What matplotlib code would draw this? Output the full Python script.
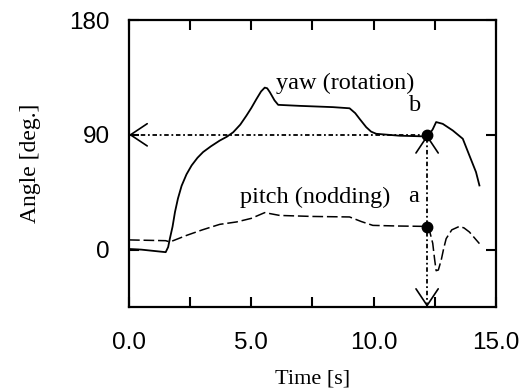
import matplotlib.pyplot as plt

# yaw (rotation) curve
yaw_t = [0.0, 0.5, 1.0, 1.5, 1.6, 1.67, 1.78, 1.88, 2.0, 2.15, 2.35, 2.56, 2.8, 3.03,
         3.35, 3.71, 4.0, 4.26, 4.55, 4.8, 5.0, 5.21, 5.4, 5.55, 5.65, 5.76, 5.95, 6.1,
         6.98, 8.34, 9.02, 9.25, 9.43, 9.7, 9.9, 10.11, 11.06, 12.22, 12.42, 12.56,
         12.83, 13.24, 13.65, 13.92, 14.19, 14.33]
yaw_deg = [0.5, 0.0, -1.0, -2.0, 2.0, 8.6, 18.0, 29.5, 40.0, 50.0, 59.0, 66.0, 72.0, 76.5,
           81.0, 85.5, 88.5, 92.0, 98.0, 105.0, 111.0, 118.0, 124.0, 127.0, 126.5, 123.4,
           117.0, 113.5, 112.7, 111.7, 110.8, 107.0, 102.5, 96.0, 92.5, 90.8, 89.3, 88.7,
           94.3, 100.0, 98.6, 93.4, 86.9, 73.8, 60.8, 50.3]

# pitch (nodding) curve
pitch_t = [0.0, 1.5, 1.67, 2.36, 3.0, 3.71, 4.4, 5.0, 5.55, 6.16, 7.5, 9.02, 9.5, 9.97,
           11.0, 12.15, 12.3, 12.42, 12.5, 12.56, 12.65, 12.77, 12.87, 12.97, 13.2,
           13.51, 13.7, 13.92, 14.33]
pitch_deg = [7.6, 7.0, 6.0, 11.2, 15.5, 19.8, 21.7, 24.5, 29.0, 26.8, 26.0, 25.6, 22.0,
             19.0, 18.5, 18.2, 14.0, 5.0, -8.0, -16.5, -16.0, -8.0, 1.0, 8.6, 15.5,
             18.2, 17.0, 13.8, 4.7]

a_t, a_deg = 12.19, 18.0
b_t, b_deg = 12.19, 90.0
y_bottom = -45

fig = plt.figure(figsize=(5.23, 3.91), dpi=100)
ax = fig.add_axes([0.2467, 0.2148, 0.7013, 0.734])

ax.plot(yaw_t, yaw_deg, color='black', lw=1.3)
ax.plot(pitch_t, pitch_deg, color='black', lw=1.1, linestyle=(0, (7, 2.5)))

# dotted guide lines with open solid arrow heads
guide = (0, (2.5, 1.5, 1, 1.5))
ax.plot([0, b_t], [b_deg, b_deg], color='black', lw=1.3, linestyle=guide)
ax.plot([b_t, b_t], [y_bottom, b_deg], color='black', lw=1.3, linestyle=guide)
head = dict(arrowstyle='->, head_length=0.6, head_width=0.4', color='black', lw=1.2,
            mutation_scale=20, shrinkA=0, shrinkB=0)
ax.annotate('', xy=(0, b_deg), xytext=(0.05, b_deg), arrowprops=head)
ax.annotate('', xy=(b_t, b_deg), xytext=(b_t, b_deg - 1), arrowprops=head)
ax.annotate('', xy=(b_t, y_bottom), xytext=(b_t, y_bottom + 1), arrowprops=head)
ax.plot([a_t, b_t], [a_deg, b_deg], 'o', color='black', ms=7.5)

serif = 'Liberation Serif'
ax.text(8.85, 130, 'yaw (rotation)', family=serif, fontsize=17.5, ha='center', va='center')
ax.text(7.6, 41, 'pitch (nodding)', family=serif, fontsize=17.5, ha='center', va='center')
ax.text(11.7, 113, 'b', family=serif, fontsize=17.5, ha='center', va='center')
ax.text(11.65, 42, 'a', family=serif, fontsize=17.5, ha='center', va='center')

ax.set_xlim(0, 15)
ax.set_ylim(y_bottom, 180)
ax.set_xticks([0, 2.5, 5, 7.5, 10, 12.5, 15])
ax.set_xticklabels(['0.0', '', '5.0', '', '10.0', '', '15.0'])
ax.set_yticks([0, 90, 180])
ax.set_yticklabels(['0', '90', '180'])
ax.tick_params(direction='in', length=7, width=1.5, top=True, right=True,
               labelsize=17.5, labelfontfamily='Liberation Sans')
ax.tick_params(axis='x', pad=18)
ax.tick_params(axis='y', pad=14)
for s in ax.spines.values():
    s.set_linewidth(1.6)

ax.set_xlabel('Time [s]', family=serif, fontsize=16, labelpad=11)
ax.set_ylabel('Angle [deg.]', family=serif, fontsize=17, labelpad=20)

fig.savefig('out.png', dpi=100)
